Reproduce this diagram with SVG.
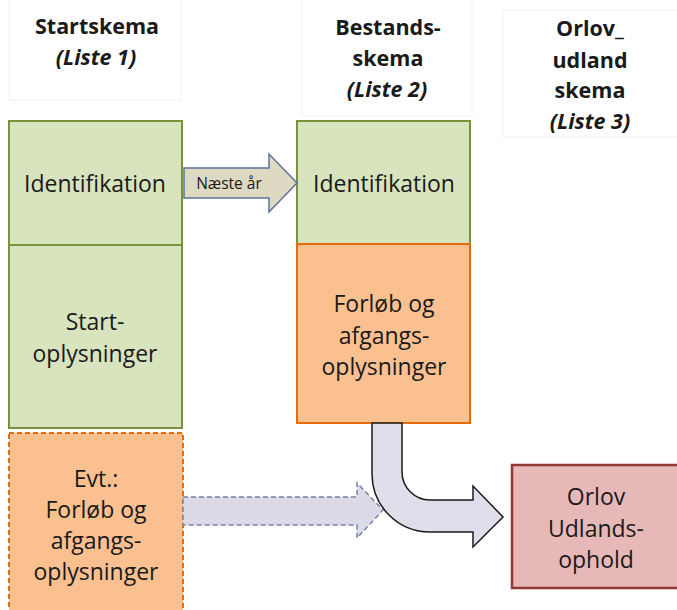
<svg xmlns="http://www.w3.org/2000/svg" width="677" height="610" viewBox="0 0 677 610">
<style>
text{font-family:"Open Sans","Liberation Sans",sans-serif;fill:#1a1a1a;text-anchor:middle}
.t{font-size:23px}
.h{font-size:21.5px;font-weight:bold}
.hi{font-size:21.5px;font-weight:bold;font-style:italic}
.hdr{fill:#ffffff;stroke:#f1f1f1;stroke-width:1}
.green{fill:#d7e4bd;stroke:#77933c;stroke-width:2}
.orange{fill:#fac090;stroke:#e46c0a;stroke-width:2}
.dash{stroke-dasharray:5 3}
.red{fill:#e6b9b8;stroke:#953735;stroke-width:2.5}
</style>
<rect width="677" height="610" fill="#ffffff"/>
<g id="hdr1">
<rect class="hdr" x="9" y="-1" width="172" height="101"/>
<text class="h" x="97" y="34">Startskema</text>
<text class="hi" x="96" y="65">(Liste 1)</text>
</g>
<g id="hdr2">
<rect class="hdr" x="302" y="-1" width="170" height="117"/>
<text class="h" x="388" y="35">Bestands-</text>
<text class="h" x="388" y="66">skema</text>
<text class="hi" x="387" y="97">(Liste 2)</text>
</g>
<g id="hdr3">
<rect class="hdr" x="503" y="10" width="176" height="127"/>
<text class="h" x="590" y="36">Orlov_</text>
<text class="h" x="590" y="68">udland</text>
<text class="h" x="590" y="98">skema</text>
<text class="hi" x="590" y="129">(Liste 3)</text>
</g>
<g id="start-ident">
<rect class="green" x="9" y="121" width="173" height="124"/>
<text class="t" x="95" y="192">Identifikation</text>
</g>
<g id="start-oplys">
<rect class="green" x="9" y="245" width="173" height="183"/>
<text class="t" x="95" y="330">Start-</text>
<text class="t" x="95" y="362">oplysninger</text>
</g>
<g id="start-evt">
<rect class="orange dash" x="9" y="433" width="174" height="185"/>
<text class="t" x="96" y="487">Evt.:</text>
<text class="t" x="96" y="518">Forløb og</text>
<text class="t" x="96" y="549">afgangs-</text>
<text class="t" x="96" y="580">oplysninger</text>
</g>
<g id="best-ident">
<rect class="green" x="297" y="121" width="173" height="123"/>
<text class="t" x="384" y="192">Identifikation</text>
</g>
<g id="best-forloeb">
<rect class="orange" x="297" y="244" width="173" height="179"/>
<text class="t" x="384" y="312">Forløb og</text>
<text class="t" x="384" y="344">afgangs-</text>
<text class="t" x="384" y="375">oplysninger</text>
</g>
<g id="orlov">
<rect class="red" x="512" y="465" width="170" height="123"/>
<text class="t" x="596" y="505">Orlov</text>
<text class="t" x="596" y="537">Udlands-</text>
<text class="t" x="596" y="568">ophold</text>
</g>
<g id="connectors">
<path d="M184,168 L269,168 L269,154 L297,183 L269,212 L269,198 L184,198 Z" fill="#ddd9c3" stroke="#5b7199" stroke-width="1.5"/>
<text x="229" y="189" style="font-size:15.5px">Næste år</text>
<path d="M183,497 L357,497 L357,483 L383,510 L357,538 L357,525 L183,525 Z" fill="#dcdae9" stroke="#7383a8" stroke-width="1.5" stroke-dasharray="5 3"/>
<path d="M372,423 L402,423 L402,472 A28,28 0 0 0 430,500 L473,500 L473,486 L503,517 L473,547 L473,532 L430,532 A58,58 0 0 1 372,474 Z" fill="#dfdeeb" stroke="#1a1a1a" stroke-width="1.5"/>
</g>
</svg>
